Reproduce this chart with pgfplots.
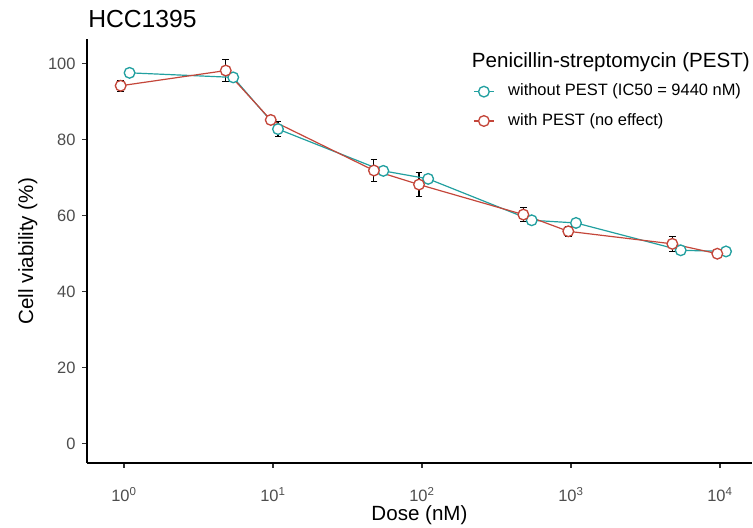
\documentclass[border=0pt]{standalone}
\usepackage{fontspec}
\setmainfont{Liberation Sans}
\usepackage{pgfplots}
\usepackage{pgfplotstable}
\pgfplotsset{compat=1.18}
\definecolor{cteal}{HTML}{22A0A0}
\definecolor{cred}{HTML}{C4463A}
\definecolor{tickgray}{HTML}{4D4D4D}

\pgfplotstableread{
x y e
1.09 97.6 1.0
5.41 96.4 1.0
10.8 82.8 1.9
55 71.8 1.0
110 69.7 1.0
545 58.8 1.0
1080 58.1 1.0
5450 50.9 1.0
10970 50.6 0.8
}\without

\pgfplotstableread{
x y e
0.95 94.2 1.5
4.82 98.2 3.0
9.66 85.2 1.0
47.6 71.9 2.85
95.5 68.2 3.2
479 60.3 1.8
959 55.9 1.3
4786 52.6 2.0
9590 50.0 0.8
}\withpest

\newcommand{\ticksize}{\fontsize{12.34pt}{14pt}\selectfont}
\newcommand{\titlesize}{\fontsize{15.43pt}{18pt}\selectfont}

\begin{document}
\begin{tikzpicture}
\path[use as bounding box] (-65.25pt,-48.75pt) rectangle (499.5pt,347.25pt);
\begin{axis}[
  at={(0pt,0pt)}, anchor=south west,
  scale only axis, width=498.75pt, height=317.7pt,
  xmode=log, xmin=0.5646, xmax=16398, ymin=-5.07, ymax=106.4,
  axis x line*=bottom, axis y line*=left,
  axis line style={-, line width=0.8pt, black},
  xtick={1,10,100,1000,10000},
  xticklabels={10\textsuperscript{0},10\textsuperscript{1},10\textsuperscript{2},10\textsuperscript{3},10\textsuperscript{4}},
  ytick={0,20,40,60,80,100},
  xminorticks=false,
  tick align=outside, major tick length=3.4pt,
  tick style={line width=0.8pt, color=black!80},
  ticklabel style={font=\ticksize, text=tickgray},
  /pgf/number format/assume math mode=true,
  xticklabel style={anchor=base, inner sep=0pt, yshift=-25.5pt},
  yticklabel style={anchor=east, inner sep=0pt, xshift=-5pt},
  xlabel={Dose (nM)}, ylabel={Cell viability (\%)},
  every axis x label/.style={at={(axis description cs:0.5,0)}, anchor=base, inner sep=0pt, yshift=-43pt, font=\titlesize},
  every axis y label/.style={at={(axis description cs:-0.1038,0.5)}, rotate=90, anchor=north, inner sep=0pt, font=\titlesize},
  legend style={at={(axis description cs:0.5805,0.842)}, anchor=west, draw=none, fill=none, inner sep=0pt, font=\ticksize, row sep=10.3pt, column sep=10.3pt, nodes={inner sep=0pt, text height=9pt, text depth=2.7pt}},
  legend cell align=left,
  legend image code/.code={\draw[mark repeat=2,mark phase=2,#1] plot coordinates {(0pt,0pt) (7.5pt,0pt) (15pt,0pt)};},
  clip=false,
]
% error bars first, so the white-filled markers cover their middle
\addplot[forget plot, only marks, mark=none,
  error bars/.cd, y dir=both, y explicit, error bar style={black, line width=0.8pt}, error mark options={rotate=90, mark size=2.5pt, black, line width=0.8pt}]
  table[x=x, y=y, y error=e] {\without};
\addplot[forget plot, only marks, mark=none,
  error bars/.cd, y dir=both, y explicit, error bar style={black, line width=0.8pt}, error mark options={rotate=90, mark size=2.5pt, black, line width=0.8pt}]
  table[x=x, y=y, y error=e] {\withpest};
\addplot[color=cteal, line width=0.9pt, mark=*, mark size=4pt, mark options={fill=white, draw=cteal, line width=1pt}]
  table[x=x, y=y] {\without};
\addlegendentry{without PEST (IC50 = 9440 nM)}
\addplot[color=cred, line width=0.9pt, mark=*, mark size=4pt, mark options={fill=white, draw=cred, line width=1pt}]
  table[x=x, y=y] {\withpest};
\addlegendentry{with PEST (no effect)}
\end{axis}
\node[anchor=base west, inner sep=0pt, font=\fontsize{18.5pt}{22pt}\selectfont] at (0.75pt,326.25pt) {HCC1395};
\node[anchor=base west, inner sep=0pt, font=\titlesize] at (288.5pt,296.25pt) {Penicillin-streptomycin (PEST)};
\end{tikzpicture}
\end{document}
